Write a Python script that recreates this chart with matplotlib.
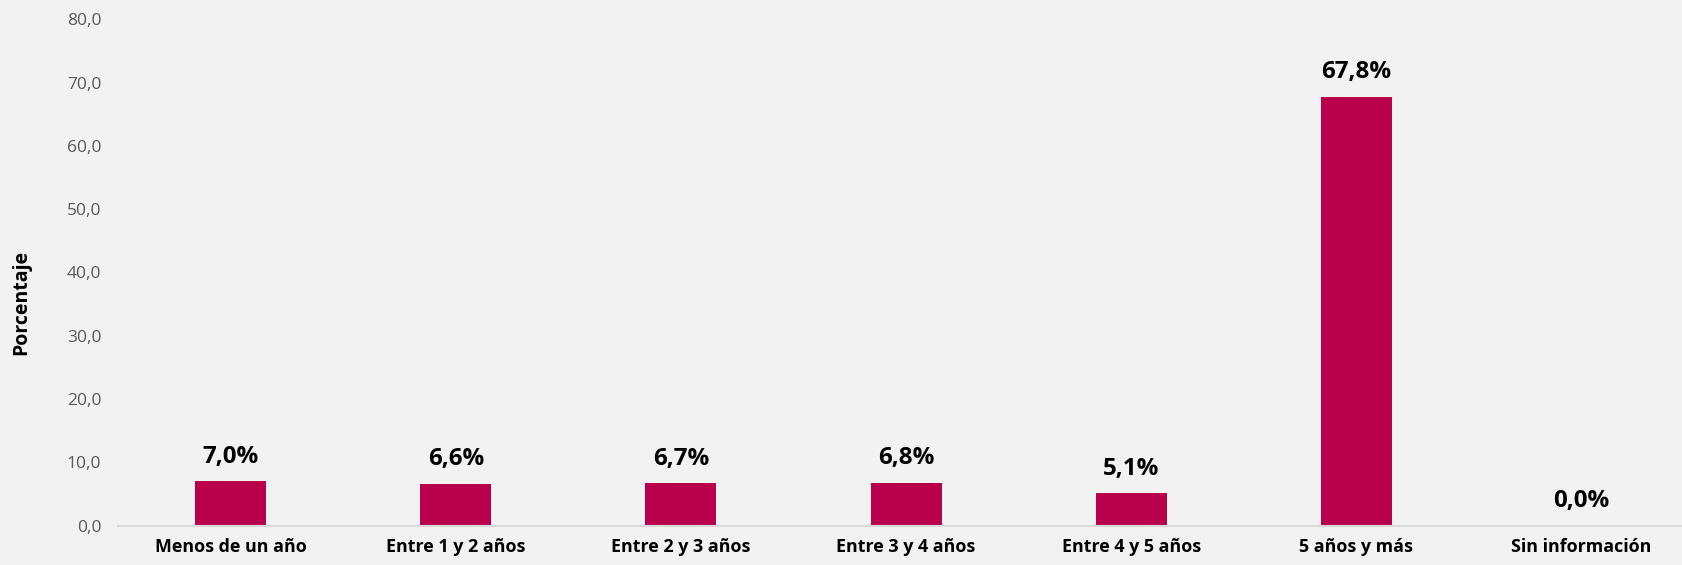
import matplotlib.pyplot as plt
from matplotlib.ticker import FuncFormatter

categorias = ['Menos de un año', 'Entre 1 y 2 años', 'Entre 2 y 3 años', 'Entre 3 y 4 años',
              'Entre 4 y 5 años', '5 años y más', 'Sin información']
porcentajes = [7.0, 6.6, 6.7, 6.8, 5.1, 67.8, 0.0]
yticks = [0, 10, 20, 30, 40, 50, 60, 70, 80]

plt.rcParams['font.family'] = ['Open Sans', 'DejaVu Sans']

fig = plt.figure(figsize=(16.82, 5.65), dpi=100)
fig.patch.set_facecolor('#F2F2F2')
ax = fig.add_axes([0.0702, 0.0697, 0.937, 0.896])
ax.set_facecolor('#F2F2F2')

x = range(len(categorias))
ax.bar(x, porcentajes, width=0.315, color='#B8004B')

for i, v in zip(x, porcentajes):
    ax.annotate(f'{v:.1f}%'.replace('.', ','), (i, v), xytext=(0, 9), textcoords='offset points',
                ha='center', va='bottom', fontsize=17.4, fontweight='bold', color='black')

ax.set_xlim(-0.5, 6.5)
ax.set_ylim(0, 80)
ax.set_yticks(yticks)
ax.yaxis.set_major_formatter(FuncFormatter(lambda v, p: f'{v:.1f}'.replace('.', ',')))
ax.set_xticks(list(x))
ax.set_xticklabels(categorias, fontsize=12.9, fontweight='bold')
ax.tick_params(axis='y', length=0, labelsize=12.5, labelcolor='#595959', pad=12)
ax.tick_params(axis='x', length=0, pad=9)

for s in ['top', 'right', 'left']:
    ax.spines[s].set_visible(False)
ax.spines['bottom'].set_color('#D9D9D9')
ax.spines['bottom'].set_linewidth(1.5)

ax.set_ylabel('Porcentaje', fontsize=14, fontweight='bold')
ax.yaxis.set_label_coords(-0.055, 0.44)

fig.savefig('out.png', dpi=100, facecolor=fig.get_facecolor())
